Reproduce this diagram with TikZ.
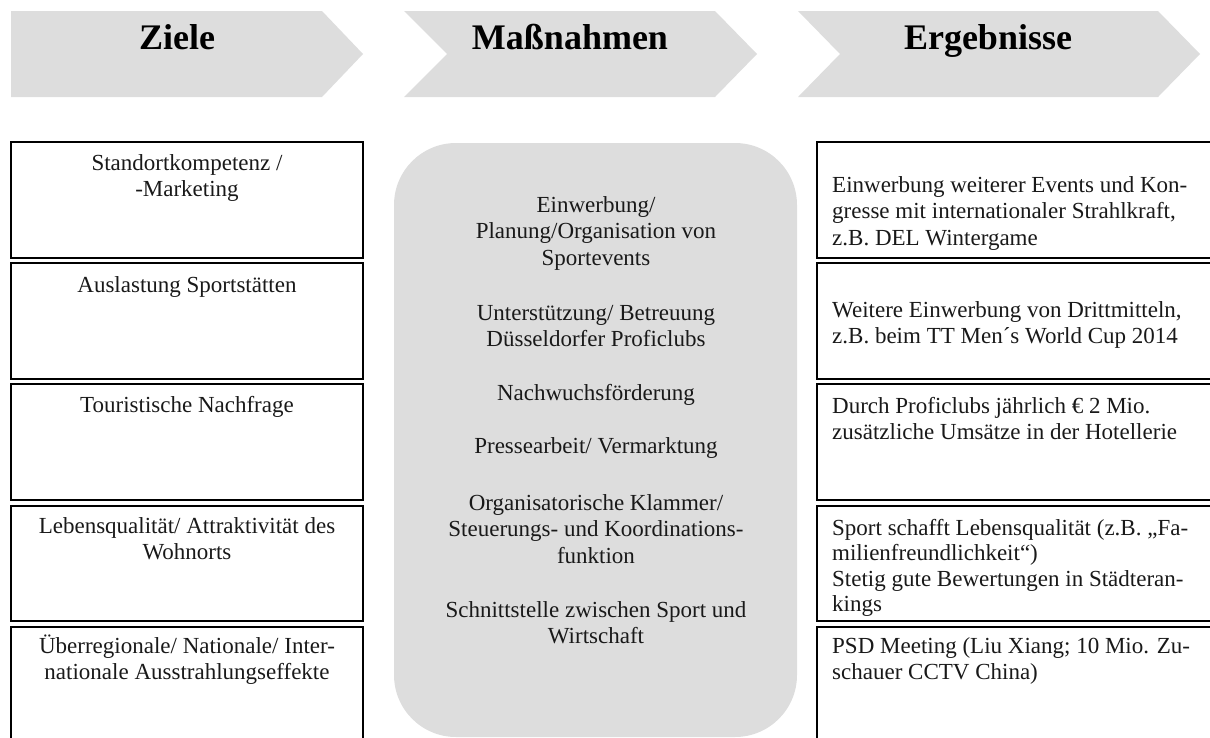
\documentclass[tikz,border=0pt]{standalone}
\usepackage{fontspec}
\setmainfont{Liberation Serif}
\definecolor{chev}{RGB}{221,221,221}
\definecolor{midfill}{RGB}{221,221,221}
\definecolor{txt}{RGB}{25,25,25}
\tikzset{
  chevron/.style={fill=chev, draw=none},
  title/.style={font=\fontsize{36}{42}\selectfont\bfseries, inner sep=0pt, anchor=base},
  box/.style={draw=black, line width=1.8pt},
  ztext/.style={font=\fontsize{23}{26.5}\selectfont, text=txt, align=center, inner sep=0pt, anchor=base},
  etext/.style={font=\fontsize{23}{26.5}\selectfont, text=txt, align=left, inner sep=0pt, anchor=base west},
  mtext/.style={font=\fontsize{23}{26.5}\selectfont, text=txt, align=center, inner sep=0pt, anchor=base},
}
\begin{document}
\begin{tikzpicture}[x=1pt,y=-1pt]
\useasboundingbox (0,0) rectangle (1210,737);
\clip (0,0) rectangle (1210,737);
% chevrons
\fill[chevron] (11,11) -- (322,11) -- (363,54) -- (322,97) -- (11,97) -- cycle;
\fill[chevron] (404,11) -- (715,11) -- (757,54) -- (715,97) -- (404,97) -- (447,54) -- cycle;
\fill[chevron] (798,11) -- (1158,11) -- (1200,54) -- (1158,97) -- (798,97) -- (840,54) -- cycle;
\node[title] (t1) at (177,49) {Ziele};
\node[title] (t2) at (570,49) {Maßnahmen};
\node[title] (t3) at (988,49) {Ergebnisse};
% middle rounded box
\fill[midfill, rounded corners=62pt] (394,143) rectangle (797,737);
% left boxes
\draw[box] (11,142) rectangle (363,258);
\draw[box] (11,263) rectangle (363,379);
\draw[box] (11,384) rectangle (363,500);
\draw[box] (11,506) rectangle (363,621);
\draw[box] (11,627) rectangle (363,780);
% right boxes
\draw[box] (817,142) rectangle (1240,258);
\draw[box] (817,263) rectangle (1240,379);
\draw[box] (817,384) rectangle (1240,500);
\draw[box] (817,506) rectangle (1240,621);
\draw[box] (817,627) rectangle (1240,780);
% left texts (anchor = baseline of last line)
\node[ztext] (z1) at (187,196.5) {Standortkompetenz /\\-Marketing};
\node[ztext] (z2) at (187,292) {Auslastung Sportstätten};
\node[ztext] (z3) at (187,412) {Touristische Nachfrage};
\node[ztext] (z4) at (187,559.5) {Lebensqualität/ Attraktivität des\\Wohnorts};
\node[ztext] (z5) at (187,679.5) {Überregionale/ Nationale/ Inter-\\nationale Ausstrahlungseffekte};
% middle texts
\node[mtext] (m1) at (596,265) {Einwerbung/\\Planung/Organisation von\\Sportevents};
\node[mtext] (m2) at (596,346.5) {Unterstützung/ Betreuung\\Düsseldorfer Proficlubs};
\node[mtext] (m3) at (596,400) {Nachwuchsförderung};
\node[mtext] (m4) at (596,453) {Pressearbeit/ Vermarktung};
\node[mtext] (m5) at (596,563) {Organisatorische Klammer/\\Steuerungs- und Koordinations-\\funktion};
\node[mtext] (m6) at (596,643.5) {Schnittstelle zwischen Sport und\\Wirtschaft};
% right texts
\begin{scope}
\clip (817,142) rectangle (1210,257);
\node[etext] (e1) at (832,245) {Einwerbung weiterer Events und Kon-\\gresse mit internationaler Strahlkraft,\\z.B. DEL Wintergame};
\end{scope}
\node[etext] (e2) at (832,343.5) {Weitere Einwerbung von Drittmitteln,\\z.B. beim TT Men´s World Cup 2014};
\node[etext] (e3) at (832,439.5) {Durch Proficlubs jährlich € 2 Mio.\\zusätzliche Umsätze in der Hotellerie};
\begin{scope}
\clip (817,506) rectangle (1210,620);
\node[etext, font=\fontsize{23}{25.5}\selectfont] (e4) at (832,611.5) {Sport schafft Lebensqualität (z.B. „Fa-\\milienfreundlichkeit“)\\Stetig gute Bewertungen in Städteran-\\kings};
\end{scope}
\node[etext] (e5) at (832,679.5) {PSD Meeting (Liu Xiang; 10 Mio. Zu-\\schauer CCTV China)};
\end{tikzpicture}
\end{document}
